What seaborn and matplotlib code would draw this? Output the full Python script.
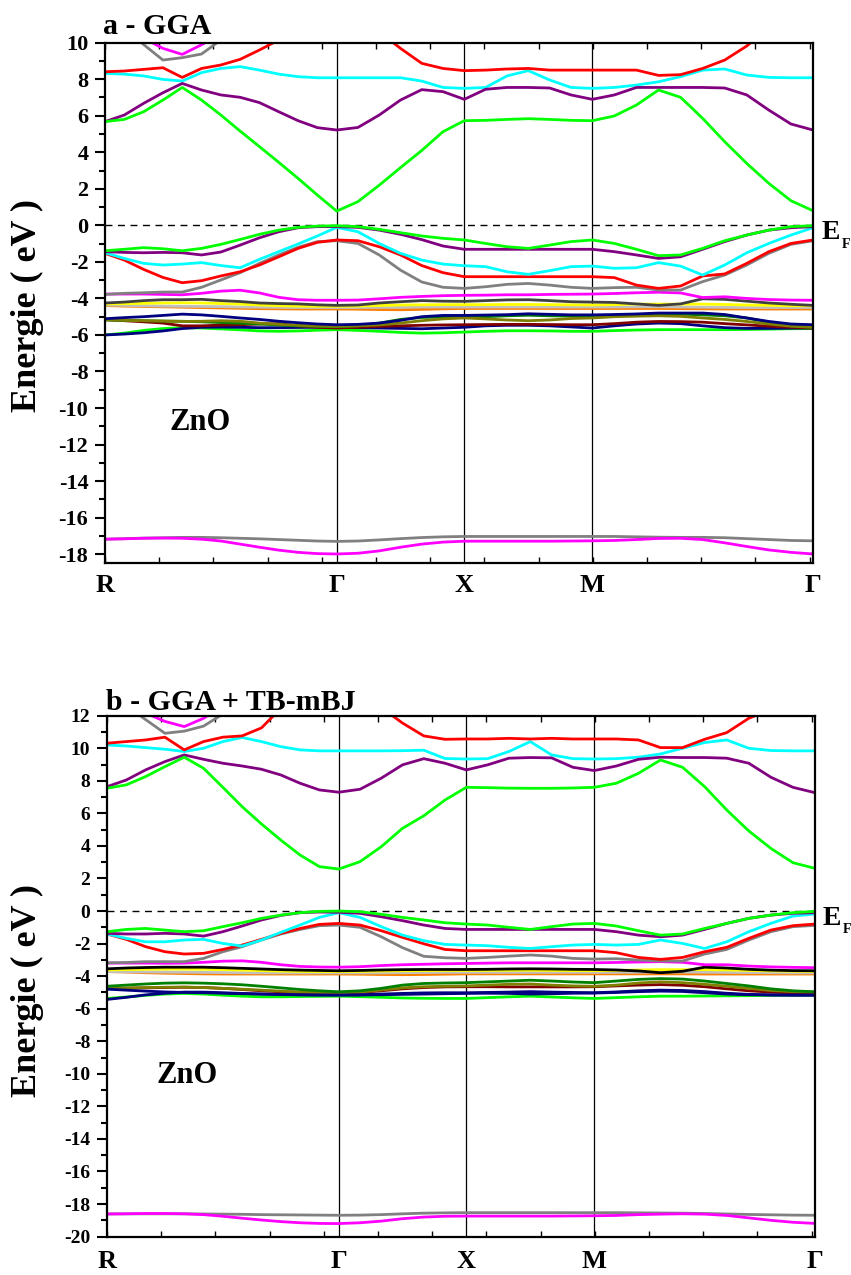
import numpy as np
import pandas as pd
import matplotlib
matplotlib.use("Agg")
import matplotlib.pyplot as plt
from matplotlib.ticker import MultipleLocator
import matplotlib.transforms as mtransforms
import seaborn as sns

# ---------------------------------------------------------------- k path
# high-symmetry points R - Gamma - X - M - Gamma (path length units)
K_LABELS = ["R", "Γ", "X", "M", "Γ"]
K_NODES = [0.0, 4.275, 6.629, 8.991, 13.063]
SEG_STEPS = [12, 6, 6, 10]

# ---------------------------------------------------------------- (a) GGA
A_CORE_GRAY = [-17.18, -17.15, -17.12, -17.10, -17.08, -17.08, -17.10, -17.13, -17.16, -17.20, -17.24, -17.28, -17.30,
               -17.28, -17.22, -17.15, -17.09, -17.05, -17.03,
               -17.03, -17.03, -17.03, -17.03, -17.03, -17.03,
               -17.03, -17.05, -17.07, -17.08, -17.08, -17.10, -17.15, -17.20, -17.25, -17.27]
A_CORE_MAGENTA = [-17.18, -17.16, -17.13, -17.12, -17.13, -17.18, -17.28, -17.45, -17.62, -17.78, -17.90, -17.97, -17.99,
                  -17.95, -17.82, -17.62, -17.45, -17.34, -17.29,
                  -17.29, -17.29, -17.29, -17.29, -17.28, -17.27,
                  -17.25, -17.20, -17.14, -17.13, -17.20, -17.38, -17.58, -17.77, -17.90, -17.99]
A_D_GREEN = [-6.00, -5.90, -5.75, -5.65, -5.60, -5.62, -5.67, -5.72, -5.78, -5.80, -5.78, -5.74, -5.71,
             -5.75, -5.80, -5.86, -5.90, -5.88, -5.84,
             -5.80, -5.77, -5.77, -5.78, -5.80, -5.80,
             -5.76, -5.73, -5.71, -5.71, -5.71, -5.71, -5.70, -5.68, -5.66, -5.65]
A_D_NAVY2 = [-6.00, -5.95, -5.88, -5.78, -5.65, -5.58, -5.57, -5.58, -5.60, -5.60, -5.59, -5.58, -5.58,
             -5.60, -5.62, -5.64, -5.66, -5.62, -5.58,
             -5.50, -5.47, -5.47, -5.50, -5.56, -5.62,
             -5.50, -5.40, -5.35, -5.38, -5.50, -5.60, -5.64, -5.64, -5.63, -5.62]
A_D_MAROON = [-5.16, -5.22, -5.28, -5.35, -5.50, -5.50, -5.46, -5.44, -5.40, -5.38, -5.50, -5.58, -5.62,
              -5.58, -5.53, -5.50, -5.47, -5.45, -5.44,
              -5.43, -5.42, -5.42, -5.43, -5.44, -5.44,
              -5.38, -5.30, -5.26, -5.27, -5.30, -5.38, -5.45, -5.52, -5.58, -5.62]
A_D_DARKGREEN = [-5.18, -5.20, -5.22, -5.24, -5.25, -5.28, -5.32, -5.36, -5.40, -5.45, -5.50, -5.53, -5.55,
                 -5.50, -5.35, -5.15, -5.04, -5.02, -5.05,
                 -5.00, -4.95, -4.92, -4.95, -4.97, -4.98,
                 -4.92, -4.88, -4.85, -4.86, -4.90, -4.95, -5.07, -5.30, -5.50, -5.58]
A_D_OLIVE = [-5.16, -5.20, -5.22, -5.24, -5.26, -5.25, -5.22, -5.25, -5.35, -5.42, -5.47, -5.51, -5.53,
             -5.50, -5.45, -5.35, -5.22, -5.12, -5.07,
             -5.12, -5.18, -5.22, -5.18, -5.10, -5.07,
             -5.00, -4.97, -4.95, -4.98, -5.07, -5.15, -5.26, -5.40, -5.52, -5.58]
A_D_NAVY1 = [-5.11, -5.05, -5.00, -4.93, -4.86, -4.90, -4.98, -5.07, -5.15, -5.25, -5.33, -5.40, -5.44,
             -5.42, -5.35, -5.20, -5.00, -4.93, -4.93,
             -4.91, -4.89, -4.84, -4.87, -4.90, -4.90,
             -4.88, -4.85, -4.80, -4.80, -4.80, -4.88, -5.07, -5.26, -5.40, -5.44]
A_D_ORANGE = [-4.39, -4.42, -4.44, -4.46, -4.48, -4.50, -4.52, -4.54, -4.56, -4.57, -4.58, -4.58, -4.58,
              -4.59, -4.61, -4.62, -4.60, -4.57, -4.55,
              -4.55, -4.55, -4.55, -4.55, -4.55, -4.55,
              -4.55, -4.55, -4.55, -4.56, -4.57, -4.58, -4.58, -4.58, -4.58, -4.58]
A_D_LIGHTGRAY = [-4.36, -4.38, -4.40, -4.42, -4.43, -4.44, -4.45, -4.47, -4.48, -4.49, -4.50, -4.50, -4.50,
                 -4.50, -4.49, -4.48, -4.47, -4.47, -4.47,
                 -4.47, -4.47, -4.47, -4.47, -4.47, -4.47,
                 -4.47, -4.46, -4.46, -4.47, -4.48, -4.49, -4.50, -4.50, -4.50, -4.50]
A_D_YELLOW = [-4.30, -4.29, -4.27, -4.25, -4.24, -4.25, -4.28, -4.31, -4.36, -4.40, -4.42, -4.43, -4.43,
              -4.42, -4.39, -4.36, -4.35, -4.34, -4.34,
              -4.34, -4.33, -4.33, -4.34, -4.35, -4.36,
              -4.34, -4.31, -4.31, -4.31, -4.31, -4.33, -4.36, -4.38, -4.40, -4.40]
A_D_DARKGRAY = [-4.25, -4.20, -4.12, -4.07, -4.07, -4.05, -4.12, -4.17, -4.25, -4.28, -4.30, -4.35, -4.38,
                -4.36, -4.25, -4.18, -4.12, -4.15, -4.16,
                -4.12, -4.08, -4.07, -4.12, -4.18, -4.20,
                -4.22, -4.30, -4.38, -4.30, -4.02, -4.05, -4.15, -4.25, -4.32, -4.38]
A_D_MAGENTA = [-3.76, -3.76, -3.76, -3.78, -3.80, -3.72, -3.60, -3.55, -3.70, -3.94, -4.07, -4.10, -4.10,
               -4.09, -4.02, -3.94, -3.89, -3.85, -3.83,
               -3.82, -3.80, -3.80, -3.78, -3.77, -3.76,
               -3.73, -3.69, -3.66, -3.70, -3.95, -3.91, -4.00, -4.06, -4.09, -4.10]
A_VB_GRAY = [-3.78, -3.72, -3.69, -3.65, -3.65, -3.39, -2.99, -2.59, -2.08, -1.62, -1.20, -0.89, -0.84,
             -0.99, -1.62, -2.45, -3.10, -3.39, -3.45,
             -3.36, -3.23, -3.18, -3.27, -3.39, -3.45,
             -3.41, -3.39, -3.54, -3.54, -3.08, -2.72, -2.17, -1.53, -1.04, -0.84]
A_VB_RED = [-1.53, -1.90, -2.41, -2.85, -3.14, -3.03, -2.77, -2.54, -2.17, -1.72, -1.26, -0.93, -0.80,
            -0.84, -1.17, -1.62, -2.20, -2.59, -2.81,
            -2.81, -2.81, -2.81, -2.81, -2.81, -2.81,
            -2.86, -3.27, -3.45, -3.32, -2.77, -2.66, -2.08, -1.44, -0.99, -0.80]
A_VB_CYAN = [-1.50, -1.81, -2.08, -2.17, -2.12, -2.04, -2.20, -2.32, -1.86, -1.44, -1.02, -0.58, -0.11,
             -0.35, -0.99, -1.53, -1.90, -2.12, -2.21,
             -2.26, -2.54, -2.68, -2.48, -2.26, -2.23,
             -2.35, -2.32, -2.04, -2.23, -2.72, -2.17, -1.50, -0.99, -0.53, -0.13]
A_VB_PURPLE = [-1.44, -1.48, -1.50, -1.48, -1.50, -1.62, -1.46, -1.08, -0.68, -0.35, -0.13, -0.07, -0.07,
               -0.11, -0.26, -0.49, -0.78, -1.13, -1.31,
               -1.31, -1.31, -1.31, -1.31, -1.31, -1.31,
               -1.44, -1.62, -1.81, -1.72, -1.31, -0.89, -0.53, -0.26, -0.13, -0.07]
A_VB_GREEN = [-1.39, -1.31, -1.22, -1.28, -1.39, -1.26, -1.04, -0.77, -0.49, -0.26, -0.11, -0.04, -0.02,
              -0.07, -0.22, -0.40, -0.58, -0.71, -0.80,
              -0.99, -1.17, -1.26, -1.08, -0.89, -0.80,
              -0.99, -1.31, -1.66, -1.62, -1.26, -0.84, -0.53, -0.26, -0.07, -0.02]
A_CB_GRAY_TOP = [11.6, 10.8, 9.90, 9.05, 9.18, 9.38, 10.15, 11.0]
A_CB_MAGENTA_TOP = [12.0, 11.2, 10.25, 9.69, 9.36, 9.89, 10.5, 11.3]
A_CB_CYAN = [8.32, 8.28, 8.18, 7.99, 7.90, 8.36, 8.59, 8.69, 8.50, 8.28, 8.14, 8.08, 8.08,
             8.08, 8.08, 8.08, 7.90, 7.55, 7.50,
             7.55, 8.18, 8.47, 7.96, 7.55, 7.50,
             7.55, 7.68, 7.86, 8.14, 8.50, 8.56, 8.23, 8.10, 8.08, 8.08]
A_CB_RED = [8.41, 8.45, 8.54, 8.63, 8.10, 8.59, 8.78, 9.09, 9.60, 10.15, 10.8, 11.3, 11.5,
            11.3, 10.6, 9.69, 8.87, 8.59, 8.47,
            8.50, 8.56, 8.59, 8.50, 8.50, 8.50,
            8.50, 8.50, 8.21, 8.25, 8.59, 9.05, 9.82, 10.8, 11.6, 12.0]
A_CB_PURPLE = [5.68, 6.04, 6.68, 7.26, 7.77, 7.41, 7.14, 7.01, 6.72, 6.22, 5.73, 5.35, 5.22,
               5.36, 6.04, 6.86, 7.43, 7.32, 6.90,
               7.45, 7.55, 7.55, 7.52, 7.14, 6.90,
               7.14, 7.55, 7.55, 7.55, 7.55, 7.52, 7.14, 6.31, 5.55, 5.22]
A_CB_GREEN = [5.68, 5.80, 6.22, 6.86, 7.55, 6.86, 6.04, 5.16, 4.31, 3.45, 2.57, 1.66, 0.78,
              1.30, 2.20, 3.16, 4.10, 5.13, 5.73,
              5.75, 5.80, 5.84, 5.80, 5.75, 5.73,
              5.99, 6.59, 7.41, 7.01, 5.86, 4.58, 3.39, 2.30, 1.35, 0.80]

# ---------------------------------------------------------------- (b) GGA + TB-mBJ
B_CORE_GRAY = [-18.61, -18.60, -18.60, -18.60, -18.60, -18.61, -18.62, -18.63, -18.65, -18.66, -18.67, -18.68, -18.69,
               -18.68, -18.65, -18.60, -18.56, -18.54, -18.53,
               -18.53, -18.53, -18.53, -18.53, -18.53, -18.53,
               -18.53, -18.54, -18.55, -18.56, -18.58, -18.61, -18.64, -18.66, -18.68, -18.69]
B_CORE_MAGENTA = [-18.61, -18.60, -18.58, -18.58, -18.60, -18.65, -18.75, -18.87, -18.98, -19.08, -19.15, -19.19, -19.20,
                  -19.15, -19.05, -18.90, -18.80, -18.75, -18.74,
                  -18.74, -18.74, -18.74, -18.74, -18.73, -18.72,
                  -18.70, -18.65, -18.62, -18.60, -18.62, -18.70, -18.85, -19.00, -19.12, -19.19]
B_D_GREEN = [-5.37, -5.28, -5.18, -5.10, -5.06, -5.10, -5.17, -5.23, -5.27, -5.27, -5.25, -5.24, -5.23,
             -5.26, -5.30, -5.34, -5.36, -5.37, -5.37,
             -5.32, -5.27, -5.23, -5.28, -5.33, -5.37,
             -5.32, -5.27, -5.23, -5.23, -5.22, -5.21, -5.20, -5.18, -5.17, -5.16]
B_D_NAVY2 = [-5.43, -5.30, -5.15, -5.05, -4.98, -4.98, -5.02, -5.06, -5.10, -5.13, -5.15, -5.16, -5.16,
             -5.16, -5.14, -5.12, -5.10, -5.08, -5.06,
             -5.05, -5.06, -5.10, -5.08, -5.05, -5.04,
             -5.00, -4.95, -4.92, -4.94, -5.02, -5.10, -5.14, -5.16, -5.17, -5.17]
B_D_MAROON = [-4.75, -4.74, -4.72, -4.70, -4.68, -4.70, -4.75, -4.82, -4.90, -4.96, -5.00, -5.04, -5.06,
              -5.00, -4.90, -4.78, -4.70, -4.66, -4.65,
              -4.65, -4.66, -4.66, -4.66, -4.66, -4.65,
              -4.60, -4.55, -4.52, -4.56, -4.65, -4.78, -4.90, -4.98, -5.03, -5.06]
B_D_OLIVE = [-4.75, -4.73, -4.70, -4.68, -4.67, -4.70, -4.75, -4.80, -4.86, -4.92, -4.98, -5.02, -5.03,
             -4.98, -4.85, -4.72, -4.65, -4.62, -4.60,
             -4.55, -4.50, -4.48, -4.55, -4.60, -4.62,
             -4.55, -4.42, -4.35, -4.40, -4.50, -4.62, -4.75, -4.88, -4.95, -4.98]
B_D_DARKGREEN = [-4.62, -4.55, -4.48, -4.43, -4.41, -4.43, -4.47, -4.53, -4.62, -4.72, -4.82, -4.90, -4.96,
                 -4.90, -4.75, -4.55, -4.45, -4.42, -4.40,
                 -4.35, -4.30, -4.25, -4.30, -4.36, -4.40,
                 -4.30, -4.20, -4.15, -4.18, -4.30, -4.45, -4.60, -4.78, -4.90, -4.96]
B_D_NAVY1 = [-4.80, -4.86, -4.92, -4.97, -5.00, -5.02, -5.05, -5.08, -5.10, -5.12, -5.14, -5.15, -5.16,
             -5.14, -5.10, -5.06, -5.03, -5.02, -5.02,
             -5.00, -4.98, -4.95, -4.98, -5.00, -5.02,
             -4.97, -4.90, -4.86, -4.88, -4.95, -5.05, -5.12, -5.15, -5.16, -5.16]
B_D_ORANGE = [-3.72, -3.75, -3.79, -3.82, -3.84, -3.86, -3.87, -3.87, -3.87, -3.87, -3.87, -3.87, -3.87,
              -3.88, -3.90, -3.91, -3.90, -3.88, -3.86,
              -3.86, -3.86, -3.86, -3.86, -3.86, -3.86,
              -3.86, -3.86, -3.86, -3.86, -3.87, -3.87, -3.87, -3.87, -3.87, -3.87]
B_D_LIGHTGRAY = [-3.72, -3.73, -3.74, -3.75, -3.76, -3.77, -3.78, -3.79, -3.80, -3.80, -3.80, -3.80, -3.80,
                 -3.80, -3.80, -3.79, -3.78, -3.77, -3.77,
                 -3.77, -3.77, -3.77, -3.77, -3.77, -3.77,
                 -3.77, -3.76, -3.75, -3.75, -3.76, -3.77, -3.78, -3.79, -3.80, -3.80]
B_D_YELLOW = [-3.62, -3.60, -3.58, -3.57, -3.57, -3.58, -3.60, -3.63, -3.66, -3.69, -3.71, -3.72, -3.72,
              -3.71, -3.69, -3.67, -3.66, -3.65, -3.65,
              -3.65, -3.64, -3.64, -3.65, -3.66, -3.66,
              -3.65, -3.62, -3.60, -3.60, -3.60, -3.62, -3.65, -3.68, -3.70, -3.71]
B_D_BLACK = [-3.55, -3.50, -3.47, -3.45, -3.45, -3.45, -3.48, -3.52, -3.56, -3.60, -3.63, -3.65, -3.67,
             -3.65, -3.62, -3.60, -3.59, -3.59, -3.59,
             -3.58, -3.56, -3.55, -3.56, -3.58, -3.59,
             -3.62, -3.68, -3.79, -3.70, -3.45, -3.50, -3.58, -3.63, -3.66, -3.67]
B_D_MAGENTA = [-3.20, -3.20, -3.20, -3.21, -3.20, -3.15, -3.08, -3.06, -3.15, -3.30, -3.40, -3.44, -3.45,
               -3.42, -3.35, -3.30, -3.27, -3.24, -3.22,
               -3.20, -3.18, -3.18, -3.18, -3.18, -3.18,
               -3.16, -3.13, -3.11, -3.15, -3.30, -3.30, -3.38, -3.43, -3.46, -3.48]
B_VB_GRAY = [-3.18, -3.16, -3.11, -3.11, -3.11, -2.91, -2.50, -2.19, -1.78, -1.41, -1.13, -0.90, -0.86,
             -1.00, -1.58, -2.25, -2.78, -2.87, -2.91,
             -2.85, -2.77, -2.70, -2.77, -2.91, -2.95,
             -2.93, -3.01, -3.07, -3.07, -2.64, -2.36, -1.78, -1.27, -0.96, -0.88]
B_VB_RED = [-1.41, -1.74, -2.19, -2.50, -2.64, -2.60, -2.36, -2.09, -1.74, -1.37, -1.07, -0.82, -0.76,
            -0.86, -1.21, -1.62, -2.01, -2.36, -2.44,
            -2.44, -2.44, -2.44, -2.44, -2.44, -2.44,
            -2.56, -2.85, -2.97, -2.85, -2.50, -2.23, -1.68, -1.17, -0.90, -0.80]
B_VB_CYAN = [-1.41, -1.68, -1.89, -1.89, -1.78, -1.74, -1.99, -2.15, -1.78, -1.31, -0.86, -0.39, -0.10,
             -0.39, -0.96, -1.48, -1.82, -2.05, -2.09,
             -2.13, -2.23, -2.30, -2.19, -2.09, -2.05,
             -2.09, -2.05, -1.78, -1.99, -2.30, -1.89, -1.27, -0.76, -0.31, -0.18]
B_VB_PURPLE = [-1.37, -1.41, -1.41, -1.37, -1.41, -1.54, -1.27, -0.92, -0.55, -0.27, -0.10, -0.06, -0.08,
               -0.14, -0.35, -0.59, -0.86, -1.07, -1.13,
               -1.13, -1.13, -1.13, -1.13, -1.13, -1.13,
               -1.27, -1.48, -1.58, -1.48, -1.13, -0.76, -0.45, -0.25, -0.14, -0.10]
B_VB_GREEN = [-1.27, -1.13, -1.07, -1.17, -1.27, -1.21, -0.96, -0.72, -0.45, -0.25, -0.10, -0.02, 0.00,
              -0.04, -0.20, -0.39, -0.55, -0.72, -0.80,
              -0.86, -1.00, -1.13, -0.96, -0.80, -0.76,
              -0.92, -1.21, -1.48, -1.41, -1.07, -0.76, -0.45, -0.25, -0.10, -0.02]
B_CB_GRAY_TOP = [13.2, 12.6, 11.76, 10.92, 11.05, 11.36, 12.1, 12.8]
B_CB_MAGENTA_TOP = [13.4, 12.8, 12.16, 11.65, 11.33, 11.84, 12.6, 13.3]
B_CB_CYAN = [10.20, 10.14, 10.04, 9.94, 9.80, 10.00, 10.41, 10.66, 10.41, 10.10, 9.90, 9.84, 9.84,
             9.84, 9.84, 9.85, 9.88, 9.37, 9.34,
             9.36, 9.80, 10.41, 9.59, 9.36, 9.34,
             9.36, 9.45, 9.65, 10.00, 10.35, 10.51, 10.00, 9.86, 9.84, 9.84]
B_CB_RED = [10.31, 10.41, 10.51, 10.68, 9.90, 10.41, 10.68, 10.76, 11.25, 12.45, 12.9, 13.1, 13.2,
            12.9, 12.5, 11.55, 10.76, 10.55, 10.57,
            10.57, 10.61, 10.57, 10.61, 10.57, 10.57,
            10.57, 10.51, 10.04, 10.04, 10.55, 10.96, 11.84, 12.4, 12.8, 13.0]
B_CB_PURPLE = [7.64, 8.05, 8.67, 9.18, 9.59, 9.32, 9.08, 8.91, 8.71, 8.36, 7.85, 7.44, 7.30,
               7.48, 8.16, 8.98, 9.36, 9.08, 8.67,
               8.98, 9.39, 9.43, 9.41, 8.83, 8.63,
               8.91, 9.32, 9.45, 9.43, 9.43, 9.39, 9.08, 8.22, 7.60, 7.27]
B_CB_GREEN = [7.54, 7.75, 8.26, 8.87, 9.45, 8.77, 7.60, 6.41, 5.35, 4.36, 3.44, 2.73, 2.58,
              3.03, 3.95, 5.08, 5.85, 6.82, 7.60,
              7.58, 7.55, 7.54, 7.54, 7.56, 7.60,
              7.85, 8.46, 9.28, 8.83, 7.64, 6.21, 4.92, 3.85, 2.97, 2.62]

COL = {
    "green": "#00ff00", "purple": "#800080", "cyan": "#00ffff", "red": "#ff0000",
    "gray": "#808080", "magenta": "#ff00ff", "darkgray": "#404040", "black": "#000000",
    "yellow": "#ffff00", "lightgray": "#c0c0c0", "orange": "#ff8000", "navy": "#000080",
    "olive": "#808000", "maroon": "#800000", "darkgreen": "#008000",
}

# drawing order (first = bottom)
BANDS_A = [
    ("core gray", "gray", A_CORE_GRAY), ("core magenta", "magenta", A_CORE_MAGENTA),
    ("d green", "green", A_D_GREEN), ("d navy2", "navy", A_D_NAVY2),
    ("d maroon", "maroon", A_D_MAROON), ("d darkgreen", "darkgreen", A_D_DARKGREEN),
    ("d olive", "olive", A_D_OLIVE), ("d navy1", "navy", A_D_NAVY1),
    ("d orange", "orange", A_D_ORANGE), ("d lightgray", "lightgray", A_D_LIGHTGRAY),
    ("d yellow", "yellow", A_D_YELLOW), ("d darkgray", "darkgray", A_D_DARKGRAY),
    ("d magenta", "magenta", A_D_MAGENTA),
    ("vb gray", "gray", A_VB_GRAY), ("vb red", "red", A_VB_RED), ("vb cyan", "cyan", A_VB_CYAN),
    ("vb purple", "purple", A_VB_PURPLE), ("vb green", "green", A_VB_GREEN),
    ("cb gray", "gray", A_CB_GRAY_TOP), ("cb magenta", "magenta", A_CB_MAGENTA_TOP),
    ("cb cyan", "cyan", A_CB_CYAN), ("cb red", "red", A_CB_RED),
    ("cb purple", "purple", A_CB_PURPLE), ("cb green", "green", A_CB_GREEN),
]
BANDS_B = [
    ("core gray", "gray", B_CORE_GRAY), ("core magenta", "magenta", B_CORE_MAGENTA),
    ("d green", "green", B_D_GREEN), ("d navy2", "navy", B_D_NAVY2),
    ("d maroon", "maroon", B_D_MAROON), ("d olive", "olive", B_D_OLIVE),
    ("d darkgreen", "darkgreen", B_D_DARKGREEN), ("d navy1", "navy", B_D_NAVY1),
    ("d orange", "orange", B_D_ORANGE), ("d lightgray", "lightgray", B_D_LIGHTGRAY),
    ("d yellow", "yellow", B_D_YELLOW), ("d black", "black", B_D_BLACK),
    ("d magenta", "magenta", B_D_MAGENTA),
    ("vb gray", "gray", B_VB_GRAY), ("vb red", "red", B_VB_RED), ("vb cyan", "cyan", B_VB_CYAN),
    ("vb purple", "purple", B_VB_PURPLE), ("vb green", "green", B_VB_GREEN),
    ("cb gray", "gray", B_CB_GRAY_TOP), ("cb magenta", "magenta", B_CB_MAGENTA_TOP),
    ("cb cyan", "cyan", B_CB_CYAN), ("cb red", "red", B_CB_RED),
    ("cb purple", "purple", B_CB_PURPLE), ("cb green", "green", B_CB_GREEN),
]

# ---------------------------------------------------------------- style
sns.set_style("ticks")
plt.rcParams["font.family"] = ["Liberation Serif", "DejaVu Serif"]
plt.rcParams["font.weight"] = "bold"
plt.rcParams["axes.unicode_minus"] = False
for key in ("text.color", "axes.labelcolor", "xtick.color", "ytick.color", "axes.edgecolor"):
    plt.rcParams[key] = "black"

W, H = 851, 1275


def k_grid():
    pts = [K_NODES[0]]
    for i, n in enumerate(SEG_STEPS):
        pts.extend(np.linspace(K_NODES[i], K_NODES[i + 1], n + 1)[1:])
    return np.array(pts)


K = k_grid()


def band_frame(bands):
    rows = []
    for name, _, vals in bands:
        kk = K[:len(vals)]
        rows.append(pd.DataFrame({"k": kk, "E": vals, "band": name}))
    return pd.concat(rows, ignore_index=True)


def draw_panel(fig, rect_px, bands, ylim, ytick_size, title, title_px,
               label_off, ylabel_xy):
    l, t, r, b = rect_px
    ax = fig.add_axes([l / W, 1 - b / H, (r - l) / W, (b - t) / H])
    df = band_frame(bands)
    palette = {name: COL[c] for name, c, _ in bands}
    order = [name for name, _, _ in bands]
    sns.lineplot(data=df, x="k", y="E", hue="band", hue_order=order, palette=palette,
                 estimator=None, sort=False, legend=False, linewidth=2.0, ax=ax)

    for kx in K_NODES[1:-1]:
        ax.axvline(kx, color="black", lw=0.9, zorder=0.5)
    ax.axhline(0, color="black", lw=1.0, ls=(0, (5, 4)), zorder=0.6)

    ax.set_xlim(K_NODES[0], K_NODES[-1])
    ax.set_ylim(*ylim)
    ax.set_xticks(np.arange(0, 14))
    ax.tick_params(axis="x", which="major", direction="in", top=True, bottom=True,
                   length=4, width=1.0, labelbottom=False)
    ax.yaxis.set_major_locator(MultipleLocator(2))
    ax.yaxis.set_minor_locator(MultipleLocator(1))
    ax.tick_params(axis="y", which="major", direction="out", left=True, right=False,
                   length=7, width=1.5, labelsize=ytick_size, pad=5)
    ax.tick_params(axis="y", which="minor", direction="out", left=True, right=False,
                   length=4, width=1.5)
    for lab in ax.get_yticklabels():
        lab.set_fontweight("bold")
    for sp in ax.spines.values():
        sp.set_linewidth(1.6)
        sp.set_color("black")
    ax.set_xlabel("")
    ax.set_ylabel("Energie ( eV )", fontsize=26, fontweight="bold")
    ax.yaxis.set_label_coords(*ylabel_xy)

    trans = mtransforms.blended_transform_factory(ax.transData, ax.transAxes)
    for kx, lab in zip(K_NODES, K_LABELS):
        ax.text(kx, label_off, lab, transform=trans, ha="center", va="center",
                fontsize=19, fontweight="bold")

    fig.text(title_px[0] / W, 1 - title_px[1] / H, title, fontsize=21.5,
             fontweight="bold", ha="left", va="baseline")
    return ax


fig = plt.figure(figsize=(W / 100, H / 100), dpi=100)

ax_a = draw_panel(fig, (105, 42.7, 813, 563.3), BANDS_A, (-18.5, 10), 16,
                  "a - GGA", (103, 34), -0.042, (-0.086, 0.496))
ax_a.text(1.75, -10.77, "ZnO", fontsize=22, fontweight="bold", ha="center", va="center")
fig.text(822 / W, 1 - 239 / H, "E", fontsize=20, fontweight="bold", ha="left", va="baseline")
fig.text(842 / W, 1 - 248 / H, "F", fontsize=10, fontweight="bold", ha="left", va="baseline")

ax_b = draw_panel(fig, (107, 715.7, 815, 1236.6), BANDS_B, (-20, 12), 14,
                  "b - GGA + TB-mBJ", (106, 710), -0.047, (-0.089, 0.473))
ax_b.text(1.48, -10.13, "ZnO", fontsize=22, fontweight="bold", ha="center", va="center")
fig.text(823 / W, 1 - 925 / H, "E", fontsize=20, fontweight="bold", ha="left", va="baseline")
fig.text(843 / W, 1 - 933 / H, "F", fontsize=10, fontweight="bold", ha="left", va="baseline")

fig.savefig("out.png", dpi=100)
